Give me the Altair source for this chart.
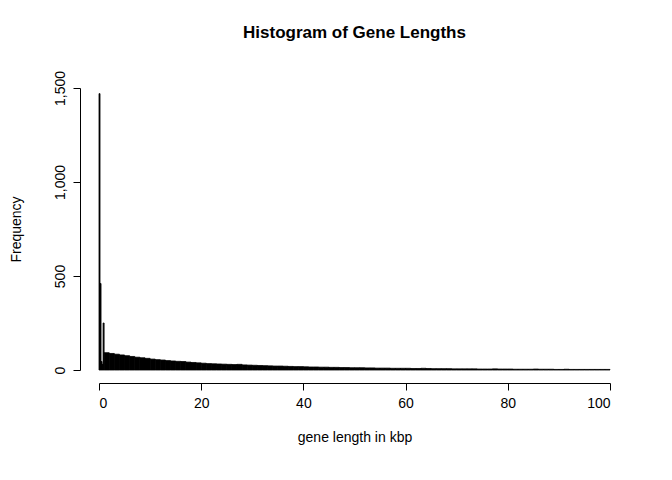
import altair as alt
import pandas as pd

# fine bins near zero (kbp)
fine_start = [0.0, 0.2, 0.4, 0.6, 0.8, 1.0]
fine_end = [0.2, 0.4, 0.6, 0.8, 1.0, 2.0]
fine_count = [1470, 460, 45, 30, 250, 92]

# 1 kbp bins from 2 to 100
coarse_count = [
    88, 84, 80, 76, 72, 68, 65, 62, 58, 55,
    53, 50, 48, 46, 45, 42, 40, 38, 36, 34,
    33, 32, 31, 30, 29, 30, 27, 26, 25, 24,
    23, 22, 21, 21, 20, 19, 18, 18, 17, 16,
    16, 15, 15, 14, 14, 13, 13, 12, 12, 12,
    11, 11, 10, 10, 10, 9, 9, 9, 9, 8,
    8, 9, 8, 7, 7, 7, 7, 6, 6, 6,
    6, 6, 5, 5, 5, 6, 5, 5, 5, 4,
    4, 4, 4, 5, 4, 4, 4, 3, 3, 4,
    3, 3, 3, 3, 3, 3, 3, 3,
]

starts = fine_start + [2 + i for i in range(len(coarse_count))]
ends = fine_end + [3 + i for i in range(len(coarse_count))]
counts = fine_count + coarse_count
df = pd.DataFrame({'start': starts, 'end': ends, 'count': counts})

font = 'Liberation Sans'

chart = alt.Chart(df).mark_rect(color='black', stroke='black', strokeWidth=0.8).encode(
    x=alt.X('start:Q', scale=alt.Scale(domain=[0, 100], nice=False, zero=False),
            axis=alt.Axis(values=[0, 20, 40, 60, 80, 100], title='gene length in kbp', offset=13,
                          grid=False, tickSize=7, titlePadding=20, labelPadding=6)),
    x2='end:Q',
    y=alt.Y('count:Q', scale=alt.Scale(domain=[0, 1500], nice=False),
            axis=alt.Axis(values=[0, 500, 1000, 1500], title='Frequency', offset=19,
                          grid=False, tickSize=7, labelAngle=270, labelAlign='center',
                          labelBaseline='bottom', labelPadding=6, titlePadding=30)),
    y2=alt.value(282),
).properties(
    width=511, height=282,
    title=alt.TitleParams('Histogram of Gene Lengths', font=font, fontSize=17, fontWeight='bold',
                          anchor='middle', offset=28),
    autosize=alt.AutoSizeParams(type='none'),
    padding={'left': 91, 'top': 80, 'right': 50, 'bottom': 100},
).configure_view(stroke=None).configure_axis(
    domainColor='black', tickColor='black', labelColor='black', titleColor='black',
    labelFont=font, titleFont=font, labelFontSize=14, titleFontSize=14,
    titleFontWeight='normal', domainWidth=1, tickWidth=1,
)

chart.save("out.html", embed_options={"renderer": "svg", "actions": False})
